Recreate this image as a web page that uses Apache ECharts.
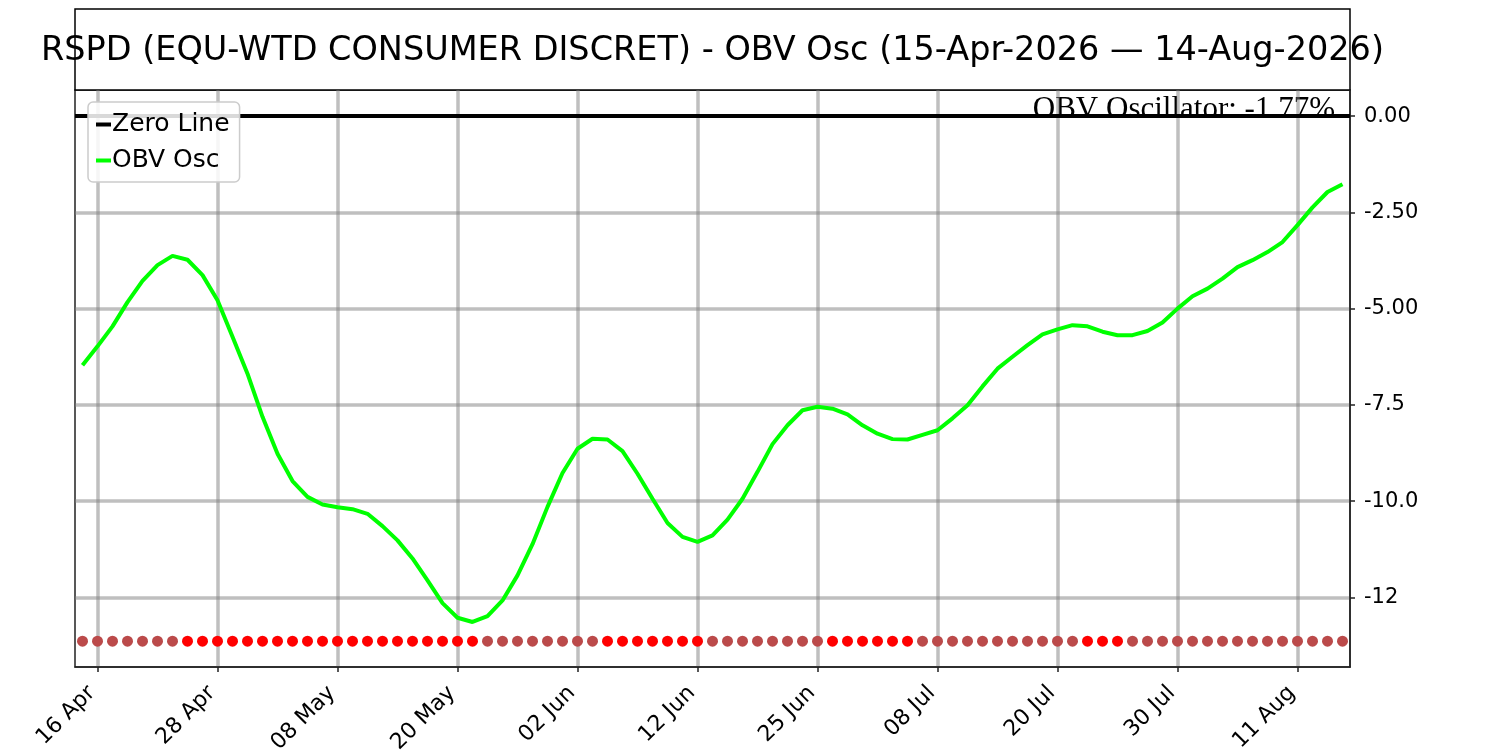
<!DOCTYPE html>
<html>
<head>
<meta charset="utf-8">
<script src="https://cdn.jsdelivr.net/npm/echarts@6/dist/echarts.min.js"></script>
<style>
html,body{margin:0;padding:0;background:#fff;}
#chart{width:1500px;height:750px;}
</style>
</head>
<body>
<div id="chart"></div>
<script>
// Trading days (categories)
const dates = [
  '2026-04-15','2026-04-16','2026-04-17','2026-04-20','2026-04-21','2026-04-22','2026-04-23','2026-04-24','2026-04-27','2026-04-28','2026-04-29','2026-04-30',
  '2026-05-01','2026-05-04','2026-05-05','2026-05-06','2026-05-07','2026-05-08','2026-05-11','2026-05-12','2026-05-13','2026-05-14','2026-05-15','2026-05-18','2026-05-19','2026-05-20','2026-05-21','2026-05-22','2026-05-26','2026-05-27','2026-05-28','2026-05-29',
  '2026-06-01','2026-06-02','2026-06-03','2026-06-04','2026-06-05','2026-06-08','2026-06-09','2026-06-10','2026-06-11','2026-06-12','2026-06-15','2026-06-16','2026-06-17','2026-06-18','2026-06-22','2026-06-23','2026-06-24','2026-06-25','2026-06-26','2026-06-29','2026-06-30',
  '2026-07-01','2026-07-02','2026-07-06','2026-07-07','2026-07-08','2026-07-09','2026-07-10','2026-07-13','2026-07-14','2026-07-15','2026-07-16','2026-07-17','2026-07-20','2026-07-21','2026-07-22','2026-07-23','2026-07-24','2026-07-27','2026-07-28','2026-07-29','2026-07-30','2026-07-31',
  '2026-08-03','2026-08-04','2026-08-05','2026-08-06','2026-08-07','2026-08-10','2026-08-11','2026-08-12','2026-08-13','2026-08-14'
];

// OBV oscillator values (%)
const obvOsc = [
  -6.47,-5.98,-5.46,-4.83,-4.28,-3.87,-3.63,-3.73,-4.13,-4.78,
  -5.73,-6.69,-7.81,-8.77,-9.48,-9.89,-10.09,-10.16,-10.21,-10.33,
  -10.65,-11.02,-11.49,-12.06,-12.65,-13.03,-13.14,-12.99,-12.58,-11.93,
  -11.12,-10.15,-9.27,-8.64,-8.38,-8.40,-8.70,-9.29,-9.94,-10.57,
  -10.93,-11.06,-10.89,-10.48,-9.94,-9.24,-8.52,-8.03,-7.64,-7.55,
  -7.60,-7.75,-8.03,-8.25,-8.39,-8.40,-8.28,-8.16,-7.85,-7.51,
  -7.02,-6.56,-6.25,-5.95,-5.67,-5.54,-5.43,-5.46,-5.60,-5.69,
  -5.69,-5.58,-5.36,-5.00,-4.68,-4.48,-4.22,-3.92,-3.74,-3.53,
  -3.27,-2.83,-2.37,-1.97,-1.77
];

// Signal dots: 1 = red (declining), 0 = brown
const signalFlags = [
  0,0,0,0,0,0,0,1,1,1, 1,1,1,1,1,1,1,1,1,1,
  1,1,1,1,1,1,1,0,0,0, 0,0,0,0,0,1,1,1,1,1,
  1,1,0,0,0,0,0,0,0,0, 1,1,1,1,1,1,0,0,0,0,
  0,0,0,0,0,0,0,1,1,1, 0,0,0,0,0,0,0,0,0,0,
  0,0,0,0,0
];
const signalLevel = -13.64;

const xTickIdx = [1, 9, 17, 25, 33, 41, 49, 57, 65, 73, 81];
const xTickLabels = ['16 Apr','28 Apr','08 May','20 May','02 Jun','12 Jun','25 Jun','08 Jul','20 Jul','30 Jul','11 Aug'];
const yTickValues = [0, -2.5, -5, -7.5, -10, -12.5];
const yTickLabels = ['0.00','-2.50','-5.00','-7.5','-10.0','-12'];

const titleText = 'RSPD (EQU-WTD CONSUMER DISCRET) - OBV Osc (15-Apr-2026 \u2014 14-Aug-2026)';
const annotText = 'OBV Oscillator: -1.77%';

const gridColor = 'rgba(128,128,128,0.5)';
const font = 'DejaVu Sans';

const chart = echarts.init(document.getElementById('chart'));
chart.setOption({
  animation: false,
  backgroundColor: '#fff',
  grid: {
    left: 75, right: 150, top: 90, bottom: 83,
    containLabel: false,
    outerBoundsMode: 'none',
    show: true, borderColor: '#222', borderWidth: 1.5, backgroundColor: 'transparent'
  },
  graphic: [
    {
      type: 'rect', z: 0,
      shape: { x: 75, y: 9, width: 1275, height: 81 },
      style: { fill: '#fff', stroke: '#000', lineWidth: 1.5 }
    },
    {
      type: 'text', z: 1,
      x: 712.5, y: 51,
      style: { text: titleText, font: '33.5px "DejaVu Sans"', fill: '#000', textAlign: 'center', textVerticalAlign: 'middle' }
    },
    {
      type: 'text', z: 0,
      x: 1335, y: 110,
      style: { text: annotText, font: '31px "Liberation Serif"', fill: '#000', textAlign: 'right', textVerticalAlign: 'middle' }
    }
  ],
  legend: {
    data: ['Zero Line', 'OBV Osc'],
    orient: 'vertical',
    left: 88, top: 102,
    z: 20,
    padding: [10, 10, 9, 8],
    itemGap: 11,
    itemWidth: 15, itemHeight: 4,
    icon: 'rect',
    backgroundColor: 'rgba(255,255,255,0.85)',
    borderColor: '#cccccc', borderWidth: 1.5, borderRadius: 5,
    textStyle: { fontFamily: font, fontSize: 25, color: '#000', padding: [0, 0, 0, -4] }
  },
  xAxis: {
    type: 'value',
    min: -0.5, max: 84.5,
    axisLine: { show: true, onZero: false, lineStyle: { color: '#222', width: 1.5 } },
    axisTick: { show: true, length: 5, customValues: xTickIdx, lineStyle: { color: '#222', width: 1.5 } },
    axisLabel: {
      show: true, customValues: xTickIdx, rotate: 45, margin: 17,
      padding: [0, 8, 0, 0],
      fontFamily: font, fontSize: 22, color: '#000',
      formatter: function (v) { const k = xTickIdx.indexOf(Math.round(v)); return k >= 0 ? xTickLabels[k] : ''; }
    },
    splitLine: { show: true, lineStyle: { color: gridColor, width: 3.5 } }
  },
  yAxis: {
    type: 'value',
    position: 'right',
    min: -14.31, max: 0.68,
    axisLine: { show: true, onZero: false, lineStyle: { color: '#222', width: 1.5 } },
    axisTick: { show: true, length: 5, customValues: yTickValues, lineStyle: { color: '#222', width: 1.5 } },
    axisLabel: {
      show: true, customValues: yTickValues, margin: 14,
      fontFamily: font, fontSize: 21, color: '#000',
      formatter: function (v) {
        let best = 0, d = Infinity;
        yTickValues.forEach(function (t, i) { if (Math.abs(t - v) < d) { d = Math.abs(t - v); best = i; } });
        return yTickLabels[best];
      }
    },
    splitLine: { show: true, lineStyle: { color: gridColor, width: 3.5 } }
  },
  series: [
    {
      name: 'Zero Line',
      type: 'line',
      data: [],
      color: '#000',
      z: 3,
      markLine: {
        silent: true, symbol: 'none', z: 3,
        label: { show: false },
        lineStyle: { color: '#000', width: 4, type: 'solid' },
        data: [{ yAxis: 0 }]
      }
    },
    {
      name: 'OBV Osc',
      type: 'line',
      color: '#00ff00',
      symbol: 'none',
      lineStyle: { color: '#00ff00', width: 4 },
      z: 4,
      data: obvOsc.map(function (v, i) { return [i, v]; })
    },
    {
      name: 'Signal',
      type: 'scatter',
      symbolSize: 11,
      z: 5,
      data: signalFlags.map(function (f, i) {
        return { value: [i, signalLevel], itemStyle: { color: f ? '#ff0000' : '#bb4a4a', opacity: 1 } };
      })
    }
  ]
});
</script>
</body>
</html>
